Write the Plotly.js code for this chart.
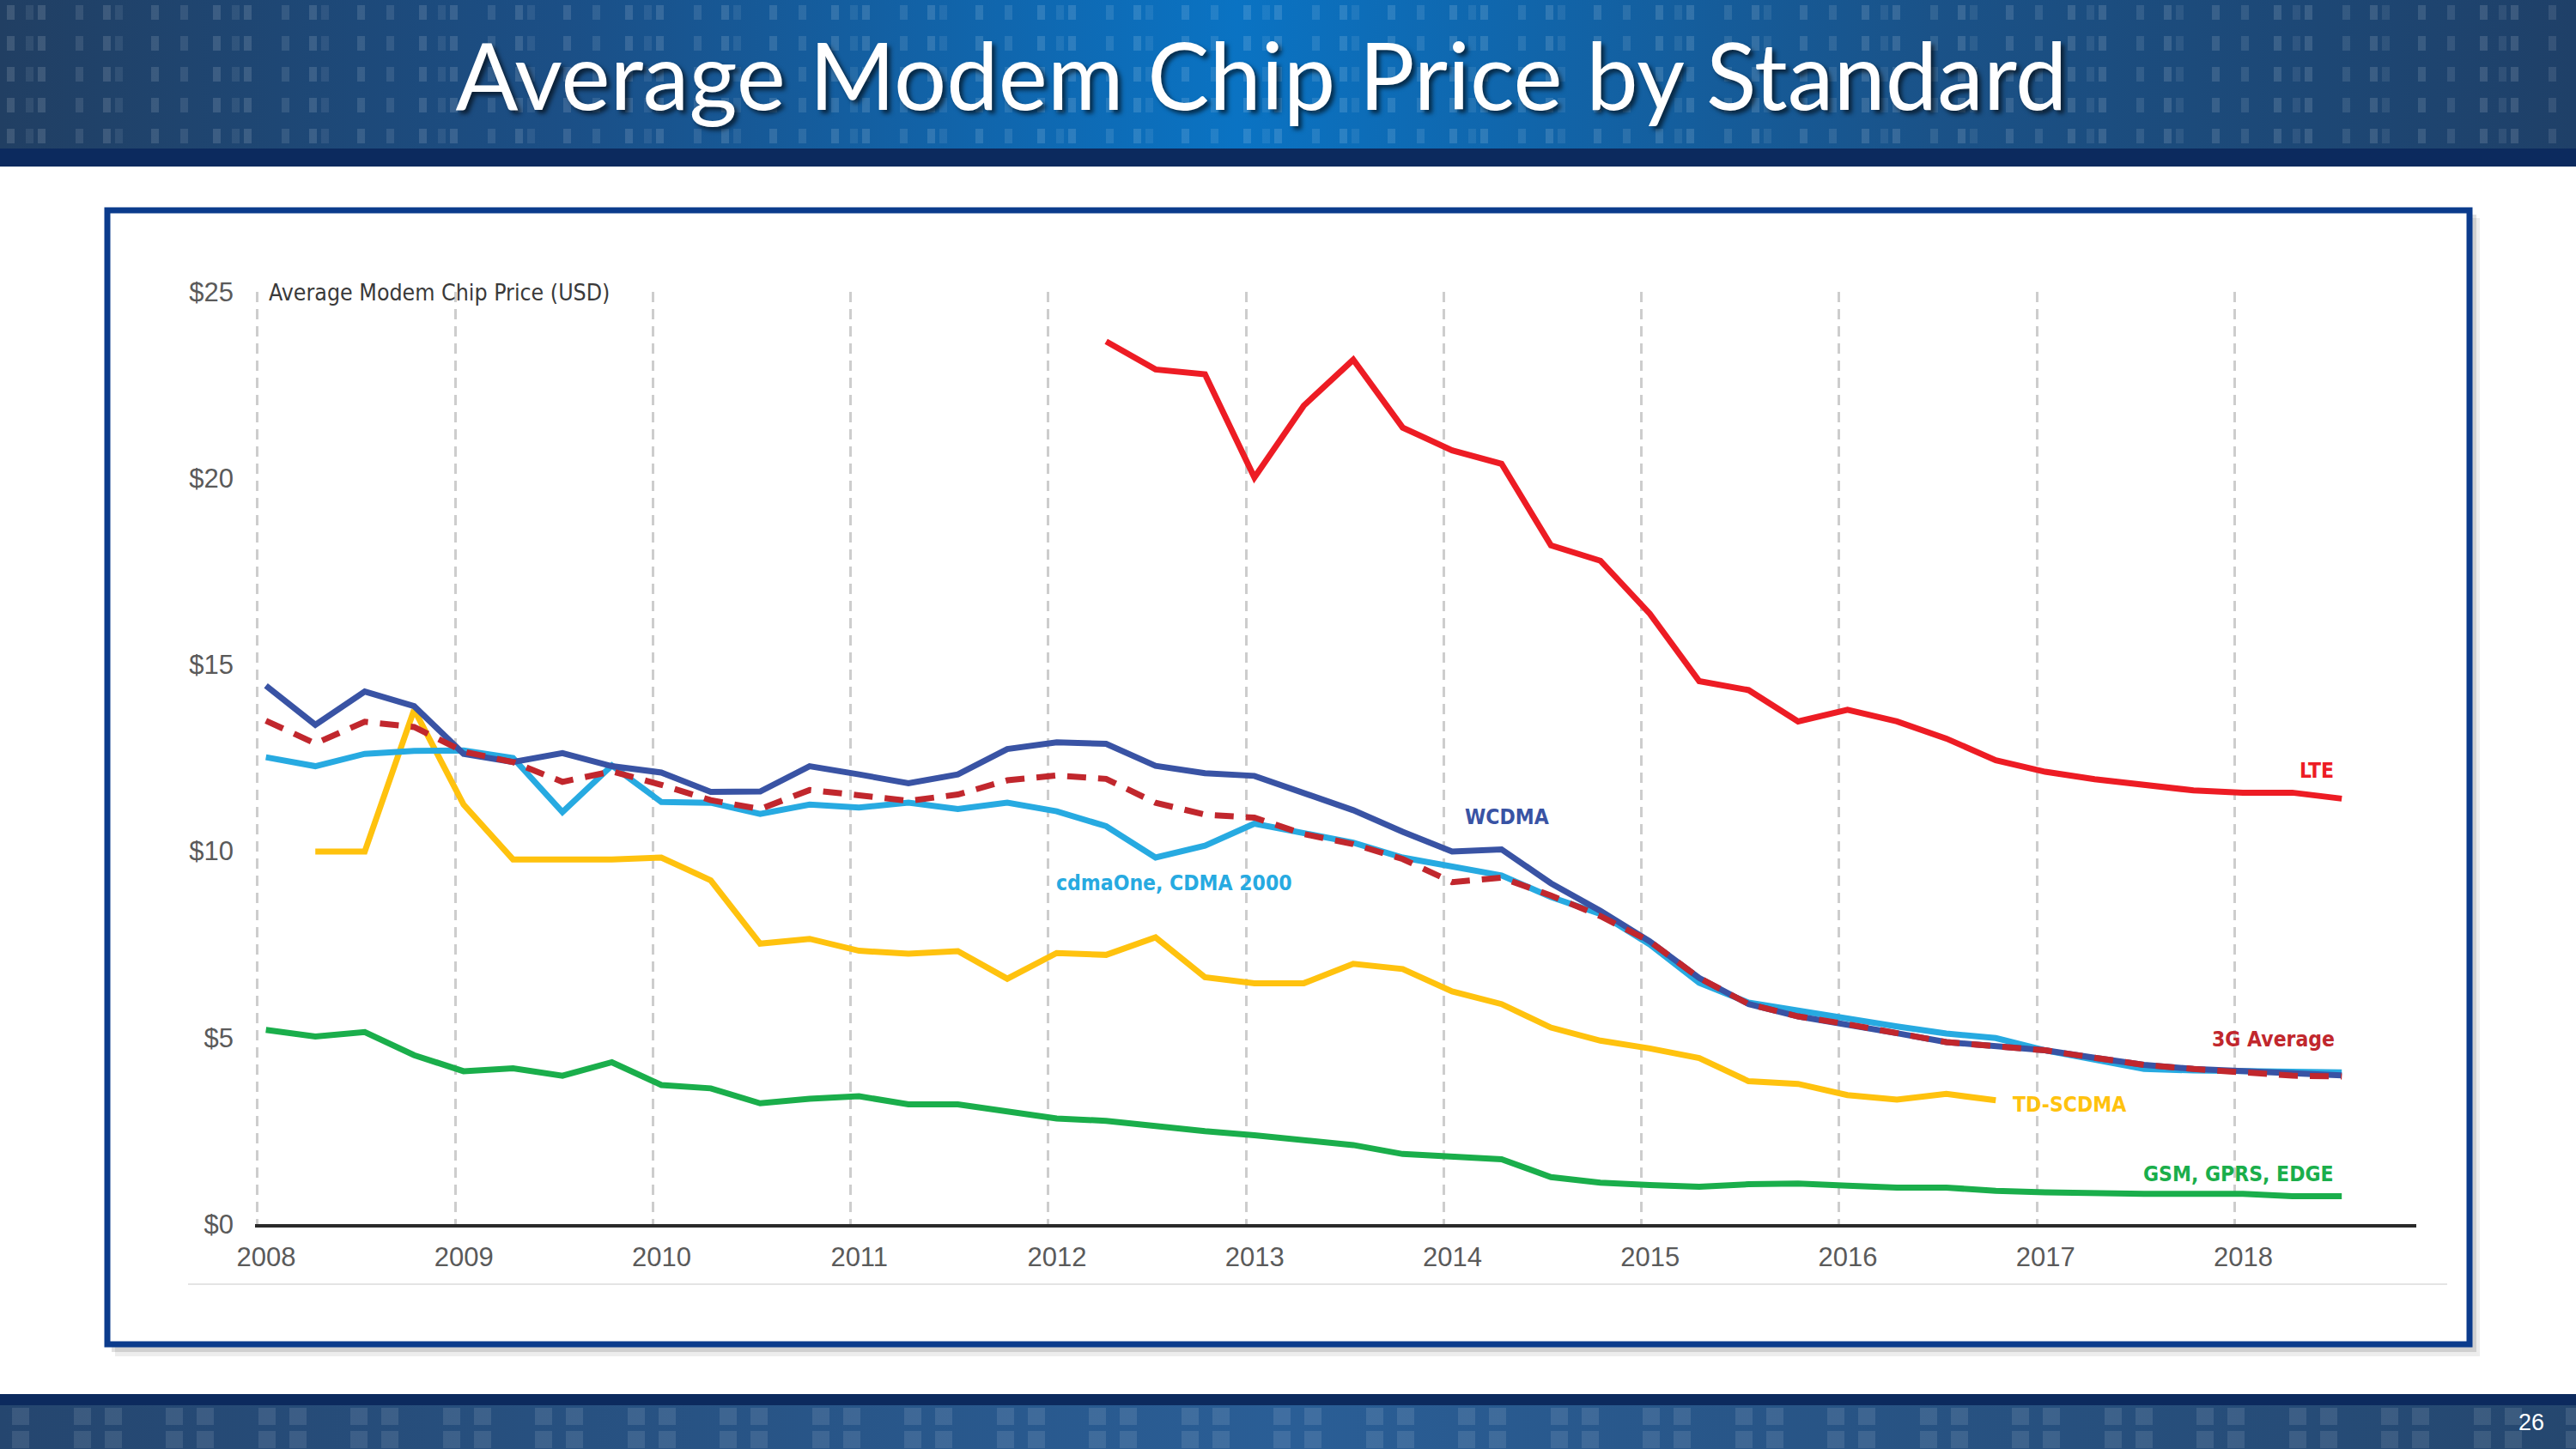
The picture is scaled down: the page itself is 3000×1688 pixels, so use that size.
<!DOCTYPE html>
<html>
<head>
<meta charset="utf-8">
<script src="https://cdn.plot.ly/plotly-3.0.1.min.js"></script>
<style>
  html, body { margin: 0; padding: 0; background: #ffffff; }
  #chart { width: 3000px; height: 1688px; }
</style>
</head>
<body>
<div id="chart"></div>
<script>
// ---------------- DATA ----------------
const quarters = [
  '2008-Q1','2008-Q2','2008-Q3','2008-Q4',
  '2009-Q1','2009-Q2','2009-Q3','2009-Q4',
  '2010-Q1','2010-Q2','2010-Q3','2010-Q4',
  '2011-Q1','2011-Q2','2011-Q3','2011-Q4',
  '2012-Q1','2012-Q2','2012-Q3','2012-Q4',
  '2013-Q1','2013-Q2','2013-Q3','2013-Q4',
  '2014-Q1','2014-Q2','2014-Q3','2014-Q4',
  '2015-Q1','2015-Q2','2015-Q3','2015-Q4',
  '2016-Q1','2016-Q2','2016-Q3','2016-Q4',
  '2017-Q1','2017-Q2','2017-Q3','2017-Q4',
  '2018-Q1','2018-Q2','2018-Q3'
];
const years = [2008, 2009, 2010, 2011, 2012, 2013, 2014, 2015, 2016, 2017, 2018];
const yTicks = [0, 5, 10, 15, 20, 25];

const lte = [null, null, null, null, null, null, null, null, null, null, null, null, null, null, null, null, null,
  23.67, 22.92, 22.79, 20.02, 21.95, 23.18, 21.36, 20.75, 20.39, 18.20, 17.79, 16.37, 14.56, 14.32, 13.48, 13.79,
  13.48, 13.02, 12.44, 12.13, 11.93, 11.79, 11.63, 11.57, 11.57, 11.41];
const wcdma = [14.44, 13.39, 14.28, 13.89, 12.61, 12.39, 12.63, 12.28, 12.11, 11.59, 11.60, 12.28, 12.06, 11.82,
  12.06, 12.74, 12.92, 12.88, 12.29, 12.09, 12.02, 11.57, 11.10, 10.52, 9.99, 10.05, 9.14, 8.40, 7.58, 6.60,
  5.90, 5.57, 5.36, 5.12, 4.88, 4.77, 4.66, 4.46, 4.27, 4.16, 4.10, 4.01, 3.99];
const avg3g = [13.50, 12.89, 13.47, 13.33, 12.67, 12.39, 11.86, 12.14, 11.78, 11.37, 11.13, 11.64, 11.50, 11.35,
  11.52, 11.90, 12.03, 11.94, 11.30, 10.98, 10.90, 10.46, 10.19, 9.79, 9.17, 9.29, 8.81, 8.26, 7.58, 6.60,
  5.90, 5.57, 5.36, 5.14, 4.88, 4.77, 4.66, 4.46, 4.27, 4.16, 4.08, 3.98, 3.96];
const cdma = [12.52, 12.28, 12.61, 12.69, 12.70, 12.50, 11.05, 12.30, 11.32, 11.30, 11.00, 11.25, 11.17, 11.30,
  11.13, 11.30, 11.07, 10.67, 9.83, 10.15, 10.74, 10.50, 10.23, 9.83, 9.59, 9.35, 8.77, 8.32, 7.50, 6.47,
  5.94, 5.72, 5.49, 5.30, 5.11, 4.99, 4.66, 4.43, 4.16, 4.12, 4.10, 4.07, 4.07];
const tdscdma = [null, 9.99, 9.99, 13.80, 11.25, 9.78, 9.76, 9.78, 9.83, 9.22, 7.52, 7.65, 7.33, 7.25, 7.32,
  6.58, 7.27, 7.22, 7.69, 6.62, 6.46, 6.46, 6.98, 6.84, 6.24, 5.90, 5.27, 4.92, 4.71, 4.45, 3.83, 3.76, 3.46,
  3.34, 3.49, 3.32, null, null, null, null, null, null, null];
const gsm = [5.21, 5.03, 5.15, 4.53, 4.10, 4.18, 3.98, 4.34, 3.73, 3.64, 3.24, 3.36, 3.43, 3.21, 3.21, 3.03,
  2.83, 2.77, 2.62, 2.49, 2.38, 2.24, 2.12, 1.88, 1.82, 1.74, 1.26, 1.11, 1.05, 1.00, 1.07, 1.09, 1.03, 0.98,
  0.98, 0.89, 0.85, 0.81, 0.81, 0.81, 0.81, 0.75, 0.75];

// ---------------- LAYOUT HELPERS ----------------
const W = 3000, H = 1688;
const M = { l: 297, r: 186, t: 340, b: 262 };
const PW = W - M.l - M.r, PH = H - M.t - M.b;
const PX = x => (x - M.l) / PW;
const PY = y => (H - M.b - y) / PH;

const xq = quarters.map(s => {
  const [y, q] = s.split('-Q');
  return Number(y) + (Number(q) - 1) * 0.25;
});
const GRID_SHIFT = 0.042;

const C = {
  lte: '#ed1c24', wcdma: '#3953a4', cdma: '#27aae1',
  avg: '#c1272d', td: '#ffc20e', gsm: '#1aae4b'
};

function line(y, color, width, dash) {
  return {
    type: 'scatter', mode: 'lines', x: xq, y: y,
    line: { color: color, width: width, dash: dash || 'solid', shape: 'linear' },
    connectgaps: false, hoverinfo: 'skip', showlegend: false
  };
}

const traces = [
  line(gsm, C.gsm, 7),
  line(tdscdma, C.td, 7),
  line(cdma, C.cdma, 7),
  line(wcdma, C.wcdma, 7),
  line(avg3g, C.avg, 7, '22px,14px'),
  line(lte, C.lte, 7)
];

// ---------------- DECORATION ----------------
function svgUri(s) { return 'data:image/svg+xml;charset=utf-8,' + encodeURIComponent(s); }

const topSvg =
  '<svg xmlns="http://www.w3.org/2000/svg" width="3000" height="194" viewBox="0 0 3000 194" preserveAspectRatio="none">' +
  '<defs>' +
  '<linearGradient id="g" x1="0" y1="0" x2="1" y2="0">' +
  '<stop offset="0" stop-color="#213f63"/><stop offset="0.22" stop-color="#1b4f86"/>' +
  '<stop offset="0.48" stop-color="#0a73c3"/><stop offset="0.75" stop-color="#1a5288"/>' +
  '<stop offset="1" stop-color="#1f4068"/></linearGradient>' +
  '<pattern id="p" width="240" height="36" patternUnits="userSpaceOnUse">' +
  '<rect x="8" y="6" width="9" height="17" fill="#ffffff" fill-opacity="0.13"/>' +
  '<rect x="30" y="6" width="9" height="17" fill="#ffffff" fill-opacity="0.08"/>' +
  '<rect x="44" y="6" width="9" height="17" fill="#ffffff" fill-opacity="0.13"/>' +
  '<rect x="88" y="6" width="9" height="17" fill="#ffffff" fill-opacity="0.10"/>' +
  '<rect x="120" y="6" width="9" height="17" fill="#ffffff" fill-opacity="0.13"/>' +
  '<rect x="134" y="6" width="9" height="17" fill="#ffffff" fill-opacity="0.08"/>' +
  '<rect x="176" y="6" width="9" height="17" fill="#ffffff" fill-opacity="0.12"/>' +
  '<rect x="210" y="6" width="9" height="17" fill="#ffffff" fill-opacity="0.10"/>' +
  '</pattern></defs>' +
  '<rect x="0" y="0" width="3000" height="173" fill="url(#g)"/>' +
  '<rect x="0" y="0" width="3000" height="173" fill="url(#p)"/>' +
  '<rect x="0" y="173" width="3000" height="21" fill="#0c2a5e"/>' +
  '</svg>';

const botSvg =
  '<svg xmlns="http://www.w3.org/2000/svg" width="3000" height="64" viewBox="0 0 3000 64" preserveAspectRatio="none">' +
  '<defs>' +
  '<linearGradient id="g" x1="0" y1="0" x2="1" y2="0">' +
  '<stop offset="0" stop-color="#25466f"/><stop offset="0.5" stop-color="#2a5e96"/>' +
  '<stop offset="1" stop-color="#25476f"/></linearGradient>' +
  '<pattern id="p" width="215" height="27" patternUnits="userSpaceOnUse" y="13">' +
  '<rect x="14" y="3" width="20" height="20" fill="#ffffff" fill-opacity="0.10"/>' +
  '<rect x="86" y="3" width="20" height="20" fill="#ffffff" fill-opacity="0.10"/>' +
  '<rect x="122" y="3" width="20" height="20" fill="#ffffff" fill-opacity="0.10"/>' +
  '<rect x="193" y="3" width="20" height="20" fill="#ffffff" fill-opacity="0.10"/>' +
  '</pattern></defs>' +
  '<rect x="0" y="0" width="3000" height="13" fill="#0c2a5e"/>' +
  '<rect x="0" y="13" width="3000" height="51" fill="url(#g)"/>' +
  '<rect x="0" y="13" width="3000" height="51" fill="url(#p)"/>' +
  '</svg>';

const images = [
  { source: svgUri(topSvg), xref: 'paper', yref: 'paper', x: PX(0), y: PY(0),
    sizex: W / PW, sizey: 194 / PH, xanchor: 'left', yanchor: 'top', sizing: 'stretch', layer: 'below' },
  { source: svgUri(botSvg), xref: 'paper', yref: 'paper', x: PX(0), y: PY(1624),
    sizex: W / PW, sizey: 64 / PH, xanchor: 'left', yanchor: 'top', sizing: 'stretch', layer: 'below' }
];

const shapes = [
  { type: 'rect', xref: 'paper', yref: 'paper', x0: PX(134), x1: PX(2888), y0: PY(254), y1: PY(1580),
    fillcolor: 'rgba(0,0,0,0.07)', line: { width: 0 }, layer: 'below' },
  { type: 'rect', xref: 'paper', yref: 'paper', x0: PX(130), x1: PX(2884), y0: PY(250), y1: PY(1575),
    fillcolor: 'rgba(0,0,0,0.12)', line: { width: 0 }, layer: 'below' },
  { type: 'rect', xref: 'paper', yref: 'paper', x0: PX(125), x1: PX(2876), y0: PY(245), y1: PY(1566),
    fillcolor: '#ffffff', line: { color: '#0b3b8c', width: 7 }, layer: 'below' },
  { type: 'line', xref: 'paper', yref: 'paper', x0: PX(219), x1: PX(2850), y0: PY(1496), y1: PY(1496),
    line: { color: '#e4e4e4', width: 2 }, layer: 'below' }
];

const NARROW = 'Liberation Sans Narrow, Arial Narrow, DejaVu Sans Condensed, sans-serif';
function label(text, x, y, color, anchor) {
  return { text: text, x: x, y: y, xref: 'x', yref: 'y', xanchor: anchor, yanchor: 'middle',
    showarrow: false, font: { family: NARROW, size: 24.5, color: color, weight: 'bold' } };
}

const annotations = [
  { text: 'Average Modem Chip Price (USD)', xref: 'paper', yref: 'y', x: PX(311), y: 25,
    xanchor: 'left', yanchor: 'middle', showarrow: false,
    font: { family: NARROW, size: 26.5, color: '#3a3a3a' } },
  label('LTE', 2018.468, 12.17, C.lte, 'right'),
  label('WCDMA', 2014.058, 10.93, C.wcdma, 'left'),
  label('cdmaOne, CDMA 2000', 2011.99, 9.16, C.cdma, 'left'),
  label('3G Average', 2018.472, 4.95, C.avg, 'right'),
  label('TD-SCDMA', 2016.826, 3.22, C.td, 'left'),
  label('GSM, GPRS, EDGE', 2018.468, 1.35, C.gsm, 'right'),
  { text: '26', xref: 'paper', yref: 'paper', x: PX(2948), y: PY(1657), xanchor: 'center', yanchor: 'middle',
    showarrow: false, font: { family: 'Liberation Sans, Arial, sans-serif', size: 27, color: '#ffffff' } }
];

const layout = {
  width: W, height: H,
  margin: M,
  paper_bgcolor: '#ffffff',
  plot_bgcolor: 'rgba(0,0,0,0)',
  showlegend: false,
  title: {
    text: 'Average Modem Chip Price by Standard',
    font: { family: 'Lato, Open Sans, sans-serif', size: 108, color: '#ffffff',
            shadow: '4px 4px 5px rgba(0,0,0,0.6)' },
    xref: 'container', yref: 'container', x: 1469 / W, y: 1 - 90 / H,
    xanchor: 'center', yanchor: 'middle'
  },
  xaxis: {
    range: [2007.945, 2018.877],
    tickmode: 'array',
    tickvals: years.map(v => v - GRID_SHIFT),
    ticktext: years.map(String),
    ticks: '',
    ticklabelshift: 10,
    ticklabelstandoff: 8,
    tickfont: { family: 'Liberation Sans, Arial, sans-serif', size: 31, color: '#5a5a5a' },
    showgrid: true, gridcolor: '#cdcdcd', gridwidth: 3, griddash: '12px,8px',
    zeroline: false,
    showline: true, linecolor: '#2a2a2a', linewidth: 4,
    fixedrange: true
  },
  yaxis: {
    range: [0, 25],
    tickmode: 'array',
    tickvals: yTicks,
    ticktext: yTicks.map(v => '$' + v),
    ticks: '',
    ticklabelstandoff: 24,
    tickfont: { family: 'Liberation Sans, Arial, sans-serif', size: 31, color: '#5a5a5a' },
    showgrid: false, zeroline: false, showline: false,
    fixedrange: true
  },
  images: images,
  shapes: shapes,
  annotations: annotations
};

Plotly.newPlot('chart', traces, layout, { displayModeBar: false, staticPlot: true });
</script>
</body>
</html>
